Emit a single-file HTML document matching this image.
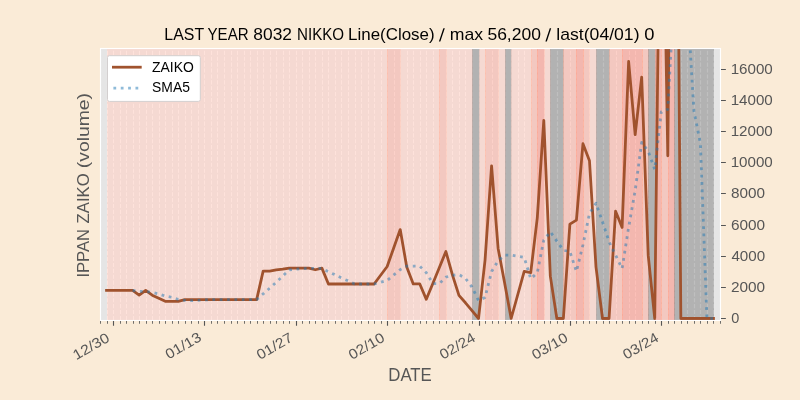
<!DOCTYPE html>
<html><head><meta charset="utf-8"><title>LAST YEAR 8032 NIKKO</title>
<style>
html,body{margin:0;padding:0;background:#faebd7;}
body{width:800px;height:400px;overflow:hidden;position:relative;font-family:"Liberation Sans",sans-serif;}
</style></head><body>
<svg width="800" height="400" viewBox="0 0 800 400" style="position:absolute;left:0;top:0">
<rect x="0" y="0" width="800" height="400" fill="#faebd7"/>
<rect x="100.0" y="48.0" width="620.0" height="272.0" fill="#e5e5e5"/>
<defs><clipPath id="ax"><rect x="100" y="48" width="620" height="272"/></clipPath></defs>
<g clip-path="url(#ax)">
<path d="M100.5 320.0V48.0M107.5 320.0V48.0M113.5 320.0V48.0M120.5 320.0V48.0M126.5 320.0V48.0M133.5 320.0V48.0M139.5 320.0V48.0M146.5 320.0V48.0M152.5 320.0V48.0M159.5 320.0V48.0M165.5 320.0V48.0M172.5 320.0V48.0M178.5 320.0V48.0M185.5 320.0V48.0M191.5 320.0V48.0M198.5 320.0V48.0M204.5 320.0V48.0M211.5 320.0V48.0M217.5 320.0V48.0M224.5 320.0V48.0M231.5 320.0V48.0M237.5 320.0V48.0M244.5 320.0V48.0M250.5 320.0V48.0M257.5 320.0V48.0M263.5 320.0V48.0M270.5 320.0V48.0M276.5 320.0V48.0M283.5 320.0V48.0M289.5 320.0V48.0M296.5 320.0V48.0M302.5 320.0V48.0M309.5 320.0V48.0M315.5 320.0V48.0M322.5 320.0V48.0M328.5 320.0V48.0M335.5 320.0V48.0M341.5 320.0V48.0M348.5 320.0V48.0M355.5 320.0V48.0M361.5 320.0V48.0M368.5 320.0V48.0M374.5 320.0V48.0M381.5 320.0V48.0M387.5 320.0V48.0M394.5 320.0V48.0M400.5 320.0V48.0M407.5 320.0V48.0M413.5 320.0V48.0M420.5 320.0V48.0M426.5 320.0V48.0M433.5 320.0V48.0M439.5 320.0V48.0M446.5 320.0V48.0M452.5 320.0V48.0M459.5 320.0V48.0M465.5 320.0V48.0M472.5 320.0V48.0M479.5 320.0V48.0M485.5 320.0V48.0M492.5 320.0V48.0M498.5 320.0V48.0M505.5 320.0V48.0M511.5 320.0V48.0M518.5 320.0V48.0M524.5 320.0V48.0M531.5 320.0V48.0M537.5 320.0V48.0M544.5 320.0V48.0M550.5 320.0V48.0M557.5 320.0V48.0M563.5 320.0V48.0M570.5 320.0V48.0M576.5 320.0V48.0M583.5 320.0V48.0M589.5 320.0V48.0M596.5 320.0V48.0M603.5 320.0V48.0M609.5 320.0V48.0M616.5 320.0V48.0M622.5 320.0V48.0M629.5 320.0V48.0M635.5 320.0V48.0M642.5 320.0V48.0M648.5 320.0V48.0M655.5 320.0V48.0M661.5 320.0V48.0M668.5 320.0V48.0M674.5 320.0V48.0M681.5 320.0V48.0M687.5 320.0V48.0M694.5 320.0V48.0M700.5 320.0V48.0M707.5 320.0V48.0M713.5 320.0V48.0M720.5 320.0V48.0" stroke="#ffffff" stroke-width="1.11" stroke-dasharray="4.11 1.78" fill="none"/>
<rect x="107.5" y="46.0" width="280.0" height="276.0" fill="#fed2c7" fill-opacity="0.65" stroke="#fed2c7" stroke-opacity="0.65" stroke-width="0.69"/>
<rect x="387.5" y="46.0" width="13.0" height="276.0" fill="#fab8ac" fill-opacity="0.65" stroke="#ffa286" stroke-opacity="0.45" stroke-width="0.75"/>
<rect x="400.5" y="46.0" width="39.0" height="276.0" fill="#fed2c7" fill-opacity="0.65" stroke="#fed2c7" stroke-opacity="0.65" stroke-width="0.69"/>
<rect x="439.5" y="46.0" width="7.0" height="276.0" fill="#fab8ac" fill-opacity="0.65" stroke="#ffa286" stroke-opacity="0.45" stroke-width="0.75"/>
<rect x="446.5" y="46.0" width="26.0" height="276.0" fill="#fed2c7" fill-opacity="0.65" stroke="#fed2c7" stroke-opacity="0.65" stroke-width="0.69"/>
<rect x="472.5" y="46.0" width="7.0" height="276.0" fill="#808080" fill-opacity="0.5" stroke="#808080" stroke-opacity="0.5" stroke-width="0.69"/>
<rect x="479.5" y="46.0" width="6.0" height="276.0" fill="#fed2c7" fill-opacity="0.65" stroke="#fed2c7" stroke-opacity="0.65" stroke-width="0.69"/>
<rect x="485.5" y="46.0" width="13.0" height="276.0" fill="#fab8ac" fill-opacity="0.65" stroke="#ffa286" stroke-opacity="0.45" stroke-width="0.75"/>
<rect x="498.5" y="46.0" width="7.0" height="276.0" fill="#fed2c7" fill-opacity="0.65" stroke="#fed2c7" stroke-opacity="0.65" stroke-width="0.69"/>
<rect x="505.5" y="46.0" width="6.0" height="276.0" fill="#808080" fill-opacity="0.5" stroke="#808080" stroke-opacity="0.5" stroke-width="0.69"/>
<rect x="511.5" y="46.0" width="20.0" height="276.0" fill="#fed2c7" fill-opacity="0.65" stroke="#fed2c7" stroke-opacity="0.65" stroke-width="0.69"/>
<rect x="531.5" y="46.0" width="6.0" height="276.0" fill="#fab8ac" fill-opacity="0.65" stroke="#ffa286" stroke-opacity="0.45" stroke-width="0.75"/>
<rect x="537.5" y="46.0" width="7.0" height="276.0" fill="#fa9e92" fill-opacity="0.65" stroke="#ff927a" stroke-opacity="0.45" stroke-width="0.75"/>
<rect x="544.5" y="46.0" width="6.0" height="276.0" fill="#fed2c7" fill-opacity="0.65" stroke="#fed2c7" stroke-opacity="0.65" stroke-width="0.69"/>
<rect x="550.5" y="46.0" width="13.0" height="276.0" fill="#808080" fill-opacity="0.5" stroke="#808080" stroke-opacity="0.5" stroke-width="0.69"/>
<rect x="563.5" y="46.0" width="13.0" height="276.0" fill="#fab8ac" fill-opacity="0.65" stroke="#ffa286" stroke-opacity="0.45" stroke-width="0.75"/>
<rect x="576.5" y="46.0" width="7.0" height="276.0" fill="#fa9e92" fill-opacity="0.65" stroke="#ff927a" stroke-opacity="0.45" stroke-width="0.75"/>
<rect x="583.5" y="46.0" width="6.0" height="276.0" fill="#fab8ac" fill-opacity="0.65" stroke="#ffa286" stroke-opacity="0.45" stroke-width="0.75"/>
<rect x="589.5" y="46.0" width="7.0" height="276.0" fill="#fed2c7" fill-opacity="0.65" stroke="#fed2c7" stroke-opacity="0.65" stroke-width="0.69"/>
<rect x="596.5" y="46.0" width="13.0" height="276.0" fill="#808080" fill-opacity="0.5" stroke="#808080" stroke-opacity="0.5" stroke-width="0.69"/>
<rect x="609.5" y="46.0" width="13.0" height="276.0" fill="#fab8ac" fill-opacity="0.65" stroke="#ffa286" stroke-opacity="0.45" stroke-width="0.75"/>
<rect x="622.5" y="46.0" width="20.0" height="276.0" fill="#fa9e92" fill-opacity="0.65" stroke="#ff927a" stroke-opacity="0.45" stroke-width="0.75"/>
<rect x="642.5" y="46.0" width="6.0" height="276.0" fill="#fab8ac" fill-opacity="0.65" stroke="#ffa286" stroke-opacity="0.45" stroke-width="0.75"/>
<rect x="648.5" y="46.0" width="7.0" height="276.0" fill="#808080" fill-opacity="0.5" stroke="#808080" stroke-opacity="0.5" stroke-width="0.69"/>
<rect x="655.5" y="46.0" width="6.0" height="276.0" fill="#fa9e92" fill-opacity="0.65" stroke="#ff927a" stroke-opacity="0.45" stroke-width="0.75"/>
<rect x="661.5" y="46.0" width="7.0" height="276.0" fill="#fab8ac" fill-opacity="0.65" stroke="#ffa286" stroke-opacity="0.45" stroke-width="0.75"/>
<rect x="668.5" y="46.0" width="6.0" height="276.0" fill="#fa9e92" fill-opacity="0.65" stroke="#ff927a" stroke-opacity="0.45" stroke-width="0.75"/>
<rect x="674.5" y="46.0" width="39.0" height="276.0" fill="#808080" fill-opacity="0.5" stroke="#808080" stroke-opacity="0.5" stroke-width="0.69"/>
<polyline points="106.53,290.46 113.05,290.46 119.58,290.46 126.11,290.46 132.63,290.46 139.16,295.14 145.68,290.46 152.21,295.14 158.74,298.25 165.26,301.37 171.79,301.37 178.32,301.37 184.84,299.58 191.37,299.58 197.89,299.58 204.42,299.58 210.95,299.58 217.47,299.58 224.00,299.58 230.53,299.58 237.05,299.58 243.58,299.58 250.11,299.58 256.63,299.58 263.16,271.15 269.68,271.15 276.21,269.91 282.74,269.13 289.26,268.04 295.79,268.04 302.32,268.04 308.84,268.04 315.37,269.75 321.89,268.11 328.42,284.00 334.95,284.00 341.47,284.00 348.00,284.00 354.53,284.00 361.05,284.00 367.58,284.00 374.11,284.00 387.16,266.48 400.21,229.57 406.74,266.95 413.26,283.92 419.79,283.92 426.32,299.34 432.84,283.46 439.37,267.41 445.89,251.53 452.42,274.89 458.95,295.45 465.47,302.77 472.00,310.71 478.53,318.50 485.05,260.09 491.58,165.87 498.11,248.41 504.63,282.99 511.16,318.50 524.21,271.46 530.74,272.71 537.26,218.04 543.79,120.39 550.32,276.14 556.84,318.50 563.37,318.50 569.89,224.12 576.42,220.07 582.95,143.75 589.47,160.73 596.00,267.10 602.53,318.50 609.05,318.50 615.58,211.19 622.11,227.39 628.63,61.51 635.16,134.72 641.68,77.09 648.21,255.42 654.74,318.50 661.26,-226.62 667.79,155.74 674.32,-556.82 680.84,318.50 687.37,318.50 693.89,318.50 700.42,318.50 706.95,318.50 713.47,318.50" fill="none" stroke="#a0522d" stroke-width="2.78" stroke-linejoin="round" stroke-linecap="square"/>
<polyline points="132.63,290.46 139.16,291.40 145.68,291.40 152.21,292.33 158.74,293.89 165.26,296.07 171.79,297.32 178.32,299.50 184.84,300.39 191.37,300.65 197.89,300.29 204.42,299.93 210.95,299.58 217.47,299.58 224.00,299.58 230.53,299.58 237.05,299.58 243.58,299.58 250.11,299.58 256.63,299.58 263.16,293.89 269.68,288.21 276.21,282.27 282.74,276.18 289.26,269.87 295.79,269.25 302.32,268.63 308.84,268.26 315.37,268.38 321.89,268.40 328.42,271.59 334.95,274.78 341.47,277.97 348.00,280.82 354.53,284.00 361.05,284.00 367.58,284.00 374.11,284.00 387.16,280.50 400.21,269.61 406.74,266.20 413.26,266.18 419.79,266.17 426.32,272.74 432.84,283.52 439.37,283.61 445.89,277.13 452.42,275.33 458.95,274.55 465.47,278.41 472.00,287.07 478.53,300.46 485.05,297.50 491.58,271.59 498.11,260.72 504.63,255.17 511.16,255.17 524.21,257.45 530.74,278.81 537.26,272.74 543.79,240.22 550.32,231.75 556.84,241.15 563.37,250.31 569.89,251.53 576.42,271.46 582.95,244.99 589.47,213.43 596.00,203.15 602.53,222.03 609.05,241.72 615.58,255.20 622.11,268.54 628.63,227.42 635.16,190.66 641.68,142.38 648.21,151.22 654.74,169.45 661.26,111.82 667.79,109.33 674.32,-10.76 680.84,1.86 687.37,1.86 693.89,110.89 700.42,143.44 706.95,318.50 713.47,318.50" fill="none" stroke="#1f77b4" stroke-opacity="0.5" stroke-width="2.78" stroke-dasharray="2.78 4.58" stroke-linejoin="round"/>
</g>
<rect x="100.5" y="48.5" width="620.0" height="272.0" fill="none" stroke="#ffffff" stroke-width="1.11"/>
<path d="M100.5 321.0v2.78M107.5 321.0v2.78M120.5 321.0v2.78M126.5 321.0v2.78M133.5 321.0v2.78M139.5 321.0v2.78M146.5 321.0v2.78M152.5 321.0v2.78M159.5 321.0v2.78M165.5 321.0v2.78M172.5 321.0v2.78M178.5 321.0v2.78M185.5 321.0v2.78M191.5 321.0v2.78M198.5 321.0v2.78M211.5 321.0v2.78M217.5 321.0v2.78M224.5 321.0v2.78M231.5 321.0v2.78M237.5 321.0v2.78M244.5 321.0v2.78M250.5 321.0v2.78M257.5 321.0v2.78M263.5 321.0v2.78M270.5 321.0v2.78M276.5 321.0v2.78M283.5 321.0v2.78M289.5 321.0v2.78M302.5 321.0v2.78M309.5 321.0v2.78M315.5 321.0v2.78M322.5 321.0v2.78M328.5 321.0v2.78M335.5 321.0v2.78M341.5 321.0v2.78M348.5 321.0v2.78M355.5 321.0v2.78M361.5 321.0v2.78M368.5 321.0v2.78M374.5 321.0v2.78M381.5 321.0v2.78M394.5 321.0v2.78M400.5 321.0v2.78M407.5 321.0v2.78M413.5 321.0v2.78M420.5 321.0v2.78M426.5 321.0v2.78M433.5 321.0v2.78M439.5 321.0v2.78M446.5 321.0v2.78M452.5 321.0v2.78M459.5 321.0v2.78M465.5 321.0v2.78M472.5 321.0v2.78M485.5 321.0v2.78M492.5 321.0v2.78M498.5 321.0v2.78M505.5 321.0v2.78M511.5 321.0v2.78M518.5 321.0v2.78M524.5 321.0v2.78M531.5 321.0v2.78M537.5 321.0v2.78M544.5 321.0v2.78M550.5 321.0v2.78M557.5 321.0v2.78M563.5 321.0v2.78M576.5 321.0v2.78M583.5 321.0v2.78M589.5 321.0v2.78M596.5 321.0v2.78M603.5 321.0v2.78M609.5 321.0v2.78M616.5 321.0v2.78M622.5 321.0v2.78M629.5 321.0v2.78M635.5 321.0v2.78M642.5 321.0v2.78M648.5 321.0v2.78M655.5 321.0v2.78M668.5 321.0v2.78M674.5 321.0v2.78M681.5 321.0v2.78M687.5 321.0v2.78M694.5 321.0v2.78M700.5 321.0v2.78M707.5 321.0v2.78M713.5 321.0v2.78M720.5 321.0v2.78" stroke="#555555" stroke-width="0.83" fill="none"/>
<path d="M113.5 321.0v4.86M204.5 321.0v4.86M296.5 321.0v4.86M387.5 321.0v4.86M479.5 321.0v4.86M570.5 321.0v4.86M661.5 321.0v4.86" stroke="#555555" stroke-width="1.11" fill="none"/>
<path d="M721.0 318.5h4.86M721.0 287.5h4.86M721.0 256.5h4.86M721.0 225.5h4.86M721.0 193.5h4.86M721.0 162.5h4.86M721.0 131.5h4.86M721.0 100.5h4.86M721.0 69.5h4.86" stroke="#555555" stroke-width="1.11" fill="none"/>
<g opacity="0.996">
<text transform="translate(731.37,323.0) scale(1.0276,1)" font-family="Liberation Sans, sans-serif" font-size="14.1" fill="#555555">0</text>
<text transform="translate(730.93,292.0) scale(1.0911,1)" font-family="Liberation Sans, sans-serif" font-size="14.1" fill="#555555">2000</text>
<text transform="translate(731.40,261.0) scale(1.0760,1)" font-family="Liberation Sans, sans-serif" font-size="14.1" fill="#555555">4000</text>
<text transform="translate(730.93,230.0) scale(1.0911,1)" font-family="Liberation Sans, sans-serif" font-size="14.1" fill="#555555">6000</text>
<text transform="translate(731.09,198.0) scale(1.0861,1)" font-family="Liberation Sans, sans-serif" font-size="14.1" fill="#555555">8000</text>
<text transform="translate(730.64,167.0) scale(1.0766,1)" font-family="Liberation Sans, sans-serif" font-size="14.1" fill="#555555">10000</text>
<text transform="translate(730.64,136.0) scale(1.0766,1)" font-family="Liberation Sans, sans-serif" font-size="14.1" fill="#555555">12000</text>
<text transform="translate(730.64,105.0) scale(1.0766,1)" font-family="Liberation Sans, sans-serif" font-size="14.1" fill="#555555">14000</text>
<text transform="translate(730.64,74.0) scale(1.0766,1)" font-family="Liberation Sans, sans-serif" font-size="14.1" fill="#555555">16000</text>
<text transform="translate(110.55,340.50) rotate(-30) scale(1.1217,1)" text-anchor="end" font-family="Liberation Sans, sans-serif" font-size="14.1" fill="#555555">12/30</text>
<text transform="translate(202.42,340.00) rotate(-30) scale(1.1033,1)" text-anchor="end" font-family="Liberation Sans, sans-serif" font-size="14.1" fill="#555555">01/13</text>
<text transform="translate(293.79,340.50) rotate(-30) scale(1.1078,1)" text-anchor="end" font-family="Liberation Sans, sans-serif" font-size="14.1" fill="#555555">01/27</text>
<text transform="translate(385.66,340.50) rotate(-30) scale(1.1033,1)" text-anchor="end" font-family="Liberation Sans, sans-serif" font-size="14.1" fill="#555555">02/10</text>
<text transform="translate(476.53,340.50) rotate(-30) scale(1.0988,1)" text-anchor="end" font-family="Liberation Sans, sans-serif" font-size="14.1" fill="#555555">02/24</text>
<text transform="translate(568.89,340.50) rotate(-30) scale(1.1033,1)" text-anchor="end" font-family="Liberation Sans, sans-serif" font-size="14.1" fill="#555555">03/10</text>
<text transform="translate(659.76,340.50) rotate(-30) scale(1.0988,1)" text-anchor="end" font-family="Liberation Sans, sans-serif" font-size="14.1" fill="#555555">03/24</text>
<text transform="translate(388.26,380.65) scale(0.9493,1)" font-family="Liberation Sans, sans-serif" font-size="17.7" fill="#555555">DATE</text>
<text transform="translate(88.6,277.59) rotate(-90) scale(0.9766,1)" font-family="Liberation Sans, sans-serif" font-size="17" fill="#555555">IPPAN</text>
<text transform="translate(88.6,223.40) rotate(-90) scale(0.9802,1)" font-family="Liberation Sans, sans-serif" font-size="17" fill="#555555">ZAIKO</text>
<text transform="translate(88.6,168.16) rotate(-90) scale(1.1370,1)" font-family="Liberation Sans, sans-serif" font-size="17" fill="#555555">(volume)</text>
<text transform="translate(164.33,40) scale(1.0010,1)" font-family="Liberation Sans, sans-serif" font-size="15.9" fill="#000000">LAST</text>
<text transform="translate(207.50,40) scale(0.9501,1)" font-family="Liberation Sans, sans-serif" font-size="15.9" fill="#000000">YEAR</text>
<text transform="translate(253.30,40) scale(1.0941,1)" font-family="Liberation Sans, sans-serif" font-size="15.9" fill="#000000">8032</text>
<text transform="translate(296.99,40) scale(0.9527,1)" font-family="Liberation Sans, sans-serif" font-size="15.9" fill="#000000">NIKKO</text>
<text transform="translate(348.04,40) scale(1.0658,1)" font-family="Liberation Sans, sans-serif" font-size="15.9" fill="#000000">Line(Close)</text>
<polygon points="438.90,41.4 440.35,41.4 444.80,28.2 443.35,28.2" fill="#000000"/>
<text transform="translate(449.84,40) scale(1.1098,1)" font-family="Liberation Sans, sans-serif" font-size="15.9" fill="#000000">max</text>
<text transform="translate(487.40,40) scale(1.1008,1)" font-family="Liberation Sans, sans-serif" font-size="15.9" fill="#000000">56,200</text>
<polygon points="545.40,41.4 546.85,41.4 551.20,28.2 549.75,28.2" fill="#000000"/>
<text transform="translate(556.34,40) scale(1.1088,1)" font-family="Liberation Sans, sans-serif" font-size="15.9" fill="#000000">last(04/01)</text>
<text transform="translate(644.25,40) scale(1.1552,1)" font-family="Liberation Sans, sans-serif" font-size="15.9" fill="#000000">0</text>
<rect x="107.5" y="55.7" width="92.8" height="45.7" rx="1.9" ry="1.9" fill="#ffffff" stroke="#d3cfcf" stroke-width="1.0"/>
<path d="M113.4 67.2h26.9" stroke="#a0522d" stroke-width="2.78" stroke-linecap="square" fill="none"/>
<path d="M113.4 88.2h27.8" stroke="#1f77b4" stroke-opacity="0.5" stroke-width="2.78" stroke-dasharray="2.78 4.58" fill="none"/>
<text transform="translate(152.08,71.9) scale(0.9876,1)" font-family="Liberation Sans, sans-serif" font-size="14.1" fill="#000000">ZAIKO</text>
<text transform="translate(152.04,91.9) scale(0.9860,1)" font-family="Liberation Sans, sans-serif" font-size="14.1" fill="#000000">SMA5</text>
</g>
</svg>
</body></html>
